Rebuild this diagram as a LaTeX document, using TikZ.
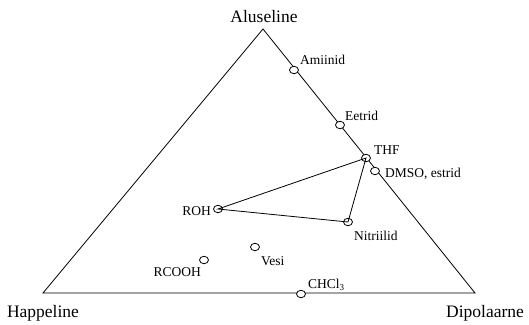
\documentclass[tikz,border=0pt]{standalone}
\usepackage{fontspec}
\setmainfont{Liberation Serif}
\usetikzlibrary{shapes.geometric}
\newcommand{\lowsub}[1]{\raisebox{-0.35ex}{\fontsize{9}{10}\selectfont #1}}
\tikzset{
  corner/.style={font=\fontsize{17.5}{20}\selectfont, inner sep=0pt},
  lbl/.style={font=\fontsize{13.5}{15}\selectfont, inner sep=0pt},
  pt/.style={draw, fill=white, ellipse, minimum width=9pt, minimum height=7.5pt, inner sep=0pt, line width=0.8pt},
  edge/.style={line width=0.8pt}
}
\begin{document}
\begin{tikzpicture}[x=1pt, y=-1pt]
\useasboundingbox (0,0) rectangle (529,324);
% outer triangle
\coordinate (top) at (263,29);
\coordinate (bl) at (43,293);
\coordinate (br) at (475,293);
\draw[edge] (top) -- (br) -- (bl) -- cycle;
% corner labels
\node[corner] (aluseline) at (264,17) {Aluseline};
\node[corner] (happeline) at (43,313) {Happeline};
\node[corner] (dipolaarne) at (485,313) {Dipolaarne};
% solvent points
\node[pt] (amiinid) at (294,70) {};
\node[pt] (eetrid) at (340,125) {};
\node[pt] (thf) at (366,158) {};
\node[pt] (dmso) at (375,171) {};
\node[pt] (roh) at (218,209) {};
\node[pt] (nitriilid) at (348,222) {};
\node[pt] (vesi) at (255,247) {};
\node[pt] (rcooh) at (204,260) {};
\node[pt] (chcl) at (301,294) {};
% ROH - THF - nitriles triangle
\draw[edge] (roh.center) -- (thf.center) -- (nitriilid.center) -- cycle;
% point labels
\node[lbl, anchor=west] (tamiinid) at (300,60) {Amiinid};
\node[lbl, anchor=west] (teetrid) at (345,116) {Eetrid};
\node[lbl, anchor=west] (tthf) at (374,150) {THF};
\node[lbl, anchor=west] (tdmso) at (385,174) {DMSO, estrid};
\node[lbl, anchor=east] (troh) at (211,211) {ROH};
\node[lbl, anchor=west] (tnitriilid) at (354,236) {Nitriilid};
\node[lbl, anchor=west] (tvesi) at (261,261) {Vesi};
\node[lbl, anchor=east] (trcooh) at (201,272) {RCOOH};
\node[lbl, anchor=west] (tchcl) at (308,285) {CHCl\lowsub{3}};
\end{tikzpicture}
\end{document}
